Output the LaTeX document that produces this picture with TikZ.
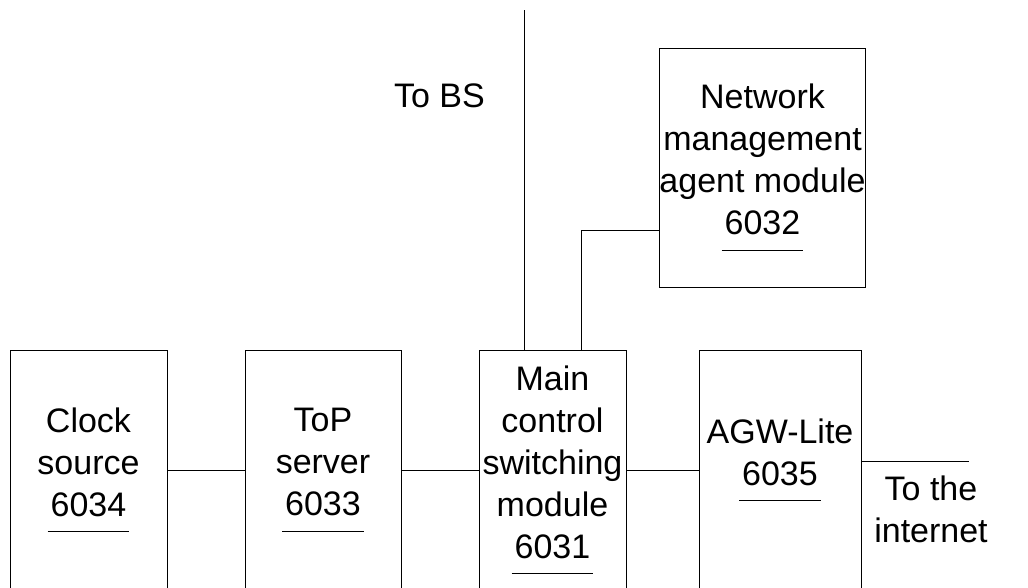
\documentclass[tikz,border=0pt]{standalone}
\usepackage{fontspec}
\setmainfont{Liberation Sans}
\newcommand\refnum[1]{\setbox0\hbox{#1}\rlap{\kern-3pt\vrule width\dimexpr\wd0+6pt\relax height -15pt depth 16pt}\box0}
\tikzset{
	unit/.style={draw,line width=1pt,rectangle,inner sep=0pt,align=center,
		font=\fontsize{34}{42}\selectfont},
	link/.style={line width=1pt},
	tag/.style={inner sep=0pt,align=center,font=\fontsize{34}{42}\selectfont}
}
\begin{document}
\begin{tikzpicture}[x=1pt,y=-1pt]
	\useasboundingbox (0,0) rectangle (1028,587);
	\clip (0,0) rectangle (1028,587);
	
	\node[unit,minimum width=157pt,minimum height=240pt] (clk) at 
	(88.5,470) {Clock\\source\\\refnum{6034}};
	
	\node[unit,minimum width=156pt,minimum height=240pt] (top) at 
	(323,470) {ToP\\server\\\refnum{6033}};
	
	\node[unit,minimum width=147pt,minimum height=240pt] (mcs) at 
	(552.5,470) {Main\\control\\switching\\module\\\refnum{6031}};
	
	\node[unit,minimum width=162pt,minimum height=240pt] (agw) at 
	(780,470) {AGW-Lite\\\refnum{6035}\rule[-36pt]{0pt}{0pt}};
	
	\node[unit,minimum width=203pt,minimum height=239pt] (nma) at 
	(762.5,167.5) {Network\\management\\agent module\\\refnum{6032}};
	
	\coordinate (bs) at (524,10);
	\coordinate (net) at (969,461);
	
	\draw[link] (clk) -- (top);
	\draw[link] (top) -- (mcs);
	\draw[link] (mcs) -- (agw);
	\draw[link] (net -| agw.east) -- (net);
	\draw[link] (bs) -- (bs |- mcs.north);
	\draw[link] ([yshift=-62.5pt]nma.west) -| ([xshift=28.5pt]mcs.north);
	
	\node[tag,anchor=base] (tobs) at (439.5,107) {To BS};
	\node[tag,anchor=north] (tonet) at (931,476) {To the\\internet};
	\end{tikzpicture}
\end{document}
